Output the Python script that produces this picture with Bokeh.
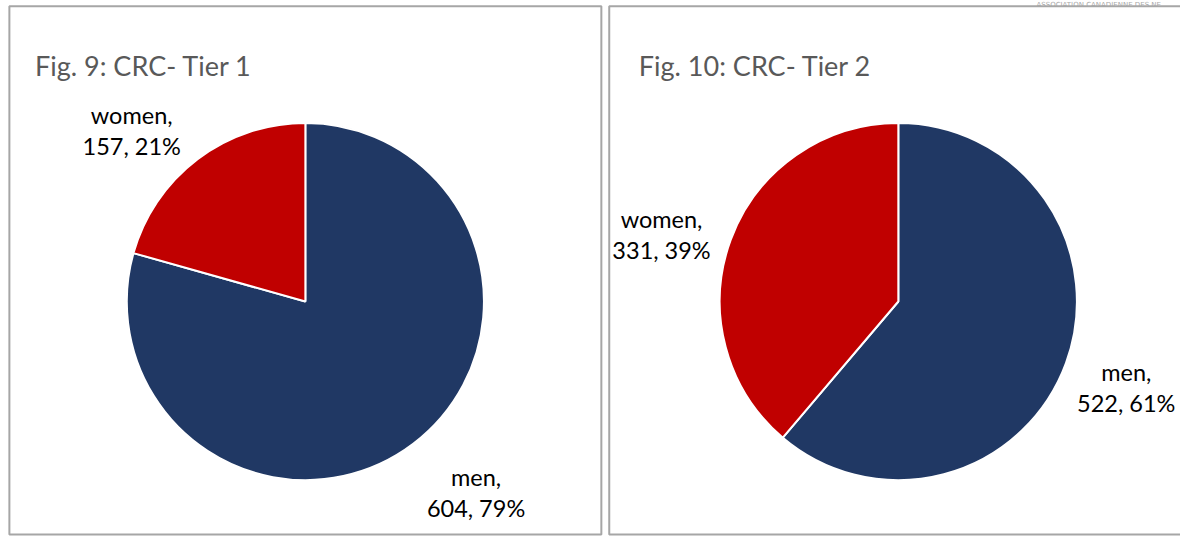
import math
from bokeh.plotting import figure
from bokeh.models import Range1d, ColumnDataSource
from bokeh.core.properties import value
from bokeh.embed import file_html
from bokeh.resources import INLINE

# ---- data ----
titles = ["Fig. 9: CRC- Tier 1", "Fig. 10: CRC- Tier 2"]
categories = ["men", "women"]
tier1_values = [604, 157]
tier2_values = [522, 331]
colors = ["#203864", "#C00000"]
watermark = "ASSOCIATION CANADIENNE DES NE"

FONT = "Lato"

# data space = reference image pixels (x right, y down -> negative)
p = figure(width=1180, height=536, output_backend="svg", toolbar_location=None,
           x_range=Range1d(0, 1196), y_range=Range1d(-552, 0),
           min_border=0, background_fill_color="white", border_fill_color="white")
p.axis.visible = False
p.grid.visible = False
p.outline_line_color = None

# panel frames
panels = [dict(left=9, right=609, top=-6, bottom=-550),
          dict(left=617, right=1210, top=-6, bottom=-550)]
for pn in panels:
    p.quad(left=pn["left"], right=pn["right"], top=pn["top"], bottom=pn["bottom"],
           fill_color=None, line_color="#a6a6a6", line_width=2)

# watermark text at top right
p.text(x=[1050], y=[-4.5], text=[watermark], text_font=value("DejaVu Sans"),
       text_font_size="7px", text_color="#a8a8a8", text_align="left",
       text_baseline="alphabetic")

pie_centers = [(309, -310), (910, -310)]
radius = 181
title_pos = [(35, -67), (647, -67)]
# label anchor positions per panel: [men, women] -> (x, first-line baseline)
label_pos = [
    [(482, -491), (133, -118)],
    [(1141, -383), (670, -225)],
]
line_gap = 32

for i, vals in enumerate([tier1_values, tier2_values]):
    total = sum(vals)
    cx, cy = pie_centers[i]
    fracs = [v / total for v in vals]
    # men: clockwise from 12 o'clock; women: the rest
    start_men = math.pi / 2 - 2 * math.pi * fracs[0]
    starts = [start_men, math.pi / 2]
    ends = [math.pi / 2, math.pi / 2 + 2 * math.pi * fracs[1]]
    src = ColumnDataSource(dict(x=[cx, cx], y=[cy, cy], start=starts, end=ends,
                                color=colors))
    p.wedge(x="x", y="y", radius=radius, start_angle="start", end_angle="end",
            fill_color="color", line_color="white", line_width=2, source=src)

    # title
    tx, ty = title_pos[i]
    p.text(x=[tx], y=[ty], text=[titles[i]], text_font=value(FONT),
           text_font_size="27px", text_color="#595959", text_align="left",
           text_baseline="alphabetic")

    # data labels
    for j, cat in enumerate(categories):
        lx, ly = label_pos[i][j]
        pct = round(100 * fracs[j])
        p.text(x=[lx, lx], y=[ly, ly - line_gap],
               text=[f"{cat},", f"{vals[j]}, {pct}%"], text_font=value(FONT),
               text_font_size="23.5px", text_color="#000000", text_align="center",
               text_baseline="alphabetic")

open("out.html", "w").write(file_html(p, INLINE))
